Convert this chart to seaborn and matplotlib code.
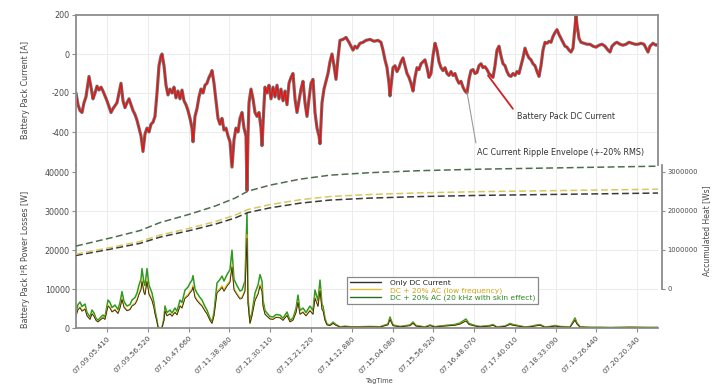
import matplotlib
matplotlib.use("Agg")
import matplotlib.pyplot as plt
from matplotlib.lines import Line2D
import numpy as np
import pandas as pd
import seaborn as sns

sns.set_theme(style="white")
plt.rcParams["font.family"] = ["DejaVu Sans"]

# ---------------------------------------------------------------- data
# sample index along the TagTime axis
cur_t = [0, 2, 4, 6, 8, 10, 12, 13, 15, 17, 19, 21, 23, 25, 27, 29, 31, 33, 35, 37,
         39, 41, 43, 45, 47, 49, 51, 53, 55, 57, 59, 61, 63, 65, 67, 69, 71, 73, 75, 77,
         79, 81, 83, 85, 86, 88, 90, 92, 94, 96, 98, 100, 102, 104, 106, 108, 110, 112, 114, 116,
         117, 119, 121, 123, 125, 127, 129, 131, 133, 135, 136, 138, 140, 142, 144, 146, 148, 150, 152, 154,
         156, 158, 160, 162, 164, 166, 168, 170, 171, 172, 173, 175, 177, 179, 181, 183, 185, 186, 188, 189,
         191, 193, 195, 197, 199, 201, 203, 205, 207, 209, 211, 213, 215, 217, 219, 221, 223, 225, 227, 229,
         231, 233, 235, 237, 239, 241, 243, 244, 246, 248, 250, 252, 254, 256, 258, 260, 262, 264, 267, 270,
         273, 275, 277, 279, 281, 284, 287, 290, 294, 298, 302, 305, 307, 309, 311, 313, 314, 316, 317, 319,
         321, 323, 325, 327, 329, 331, 333, 335, 337, 339, 341, 343, 345, 347, 349, 351, 353, 355, 357, 359,
         361, 363, 365, 367, 369, 371, 373, 375, 377, 379, 381, 383, 385, 387, 389, 391, 393, 395, 397, 399,
         401, 403, 405, 407, 409, 411, 413, 415, 417, 419, 421, 423, 425, 427, 429, 431, 433, 435, 437, 439,
         441, 443, 445, 447, 449, 451, 453, 455, 457, 459, 461, 463, 465, 467, 469, 471, 473, 475, 477, 479,
         481, 483, 485, 487, 489, 491, 493, 495, 497, 499, 500, 501, 503, 505, 508, 511, 514, 517, 520, 523,
         526, 529, 532, 534, 536, 539, 541, 544, 547, 550, 553, 556, 559, 562, 565, 568, 570, 572, 574, 577,
         580, 582]
# battery pack DC current [A]
current = [-200, -260, -290, -300, -250, -220, -150, -115, -170, -230, -200, -165, -185, -170, -190, -215, -240, -270, -300, -280,
           -265, -250, -200, -150, -240, -275, -250, -230, -260, -290, -310, -340, -380, -420, -500, -410, -380, -400, -360, -350,
           -320, -200, -60, -10, 0, -60, -160, -210, -180, -200, -170, -225, -190, -230, -185, -240, -260, -290, -330, -380,
           -450, -320, -280, -220, -180, -200, -160, -150, -120, -100, -85, -150, -240, -330, -360, -330, -390, -380, -420, -450,
           -580, -440, -380, -400, -330, -300, -380, -420, -700, -420, -250, -180, -230, -300, -320, -300, -380, -470, -260, -170,
           -200, -160, -230, -170, -220, -160, -230, -180, -240, -190, -260, -150, -120, -100, -230, -300, -240, -180, -140, -250,
           -320, -230, -150, -130, -300, -380, -420, -460, -250, -180, -140, -100, -40, 0, -60, -130, -20, 70, 75, 85,
           60, 40, 20, 40, 30, 55, 60, 70, 75, 65, 70, 60, 20, -30, -70, -150, -215, -120, -70, -60,
           -90, -70, -40, -20, -60, -100, -120, -150, -190, -120, -70, -80, -50, -40, -30, -70, -120, -100, -10, 55,
           20, -40, -70, -85, -70, -100, -110, -90, -110, -100, -130, -150, -140, -170, -190, -200, -130, -85, -80, -100,
           -95, -60, -50, -70, -65, -80, -100, -110, -120, -60, 20, 40, -10, -50, -60, -90, -110, -115, -100, -110,
           -90, -100, -60, -20, 30, 0, -20, -30, -50, -60, -90, -115, -60, 20, 60, 55, 65, 60, 90, 110,
           125, 100, 80, 60, 40, 35, 20, 10, 30, 140, 195, 150, 80, 60, 55, 50, 50, 40, 35, 45,
           50, 40, 20, 10, 40, 55, 60, 50, 45, 50, 60, 55, 50, 50, 55, 50, 30, 10, 40, 55,
           45, 50]

# I²R losses with DC current only [W]
loss_t = [0, 2, 4, 6, 9, 11, 14, 16, 18, 20, 22, 24, 27, 29, 32, 34, 36, 39, 42, 44,
          46, 48, 51, 54, 56, 59, 61, 63, 65, 66, 68, 69, 71, 73, 76, 78, 79, 81, 82, 84,
          86, 88, 89, 91, 94, 96, 99, 101, 104, 106, 109, 112, 114, 116, 117, 119, 121, 124, 126, 129,
          131, 134, 136, 138, 141, 144, 146, 148, 151, 154, 156, 158, 161, 164, 166, 169, 171, 172, 174, 176,
          179, 182, 184, 186, 187, 189, 191, 194, 197, 200, 204, 207, 211, 214, 217, 220, 222, 224, 227, 230,
          234, 237, 239, 242, 244, 246, 247, 249, 251, 254, 257, 260, 264, 269, 274, 284, 294, 304, 312, 314,
          317, 324, 334, 337, 340, 349, 354, 359, 364, 369, 374, 379, 384, 387, 390, 393, 399, 404, 414, 417,
          421, 429, 434, 437, 444, 449, 454, 461, 464, 469, 474, 479, 484, 494, 499, 501, 504, 514, 524, 534,
          544, 554, 564, 574, 582]
loss_dc = [3100, 4700, 5200, 4300, 4800, 3100, 2200, 3600, 3000, 1950, 1550, 2000, 2600, 2200, 5600, 5100, 4100, 4600, 3700, 5100,
           7300, 5300, 4400, 4700, 5600, 6100, 7000, 8600, 9800, 11900, 9000, 8500, 11900, 8600, 7000, 5100, 3600, 1550, 230, 0,
           80, 1950, 4400, 3100, 3600, 3000, 4000, 3350, 5600, 5100, 7600, 8200, 9000, 9600, 10500, 7800, 7000, 6100, 5600, 4300,
           3600, 1950, 1170, 3100, 9000, 9750, 10400, 9400, 10700, 11700, 15600, 9750, 8500, 7400, 7600, 9400, 23000, 6200, 1170, 3100,
           7000, 8600, 10700, 9400, 5600, 3500, 3000, 2300, 2200, 2700, 2600, 1950, 3200, 1550, 2000, 3900, 6600, 3500, 4000, 3100,
           4400, 3500, 7600, 5500, 9600, 4700, 4400, 1950, 780, 620, 1170, 700, 230, 350, 250, 250, 300, 250, 800, 2200,
           600, 300, 600, 1200, 500, 200, 600, 250, 400, 500, 600, 700, 1000, 1400, 1800, 900, 500, 300, 500, 700,
           200, 400, 900, 700, 400, 200, 300, 600, 700, 200, 300, 500, 300, 200, 2000, 1000, 250, 150, 150, 100,
           150, 180, 150, 120, 130]

# accumulated heat with DC current only [Ws]
heat_t = [0, 34, 64, 84, 114, 139, 159, 172, 194, 224, 254, 294, 344, 404, 464, 524, 582]
heat_dc = [0.86e6, 1.02e6, 1.17e6, 1.33e6, 1.50e6, 1.66e6, 1.82e6, 1.96e6, 2.08e6, 2.20e6,
           2.28e6, 2.33e6, 2.37e6, 2.40e6, 2.42e6, 2.44e6, 2.46e6]

LF_FACTOR = 1.04    # DC + 20 % AC ripple at low frequency: 1 + 0.2**2
SKIN_FACTOR = 1.28  # DC + 20 % AC ripple at 20 kHz with skin effect

tick_pos = [31, 72, 113, 153, 194, 235, 276, 317, 357, 398, 439, 480, 520, 561]
tick_labels = ["07.09.05.410", "07.09.56.520", "07.10.47.660", "07.11.38.980",
               "07.12.30.110", "07.13.21.220", "07.14.12.880", "07.15.04.080",
               "07.15.56.920", "07.16.48.070", "07.17.40.010", "07.18.33.090",
               "07.19.26.440", "07.20.20.340"]

series_labels = ["Only DC Current", "DC + 20% AC (low frequency)",
                 "DC + 20% AC (20 kHz with skin effect)"]
series_colors = ["#262626", "#e8b400", "#2f9a22"]
heat_colors = ["#3a3a3a", "#d9c85a", "#4d6e4d"]
series_text_colors = ["#222222", "#d4a20c", "#2e8a22"]

losses = pd.DataFrame({"t": loss_t,
                       "dc": loss_dc,
                       "lf": np.array(loss_dc) * LF_FACTOR,
                       "hf": np.array(loss_dc) * SKIN_FACTOR})
heat = pd.DataFrame({"t": heat_t,
                     "dc": heat_dc,
                     "lf": np.array(heat_dc) * LF_FACTOR,
                     "hf": np.array(heat_dc) * SKIN_FACTOR})

# ---------------------------------------------------------------- layout
W, H = 712, 385
fig = plt.figure(figsize=(W / 100, H / 100), dpi=100)
fig.patch.set_facecolor("white")


def box(x0, y0, x1, y1):
    return [x0 / W, 1 - y1 / H, (x1 - x0) / W, (y1 - y0) / H]


FRAME = "#8c8c8c"
TXT = "#4a4a4a"
GRID = "#ececec"
FS = 5.8

ax_p = fig.add_axes(box(76, 165, 658, 328))
ax_h = ax_p.twinx()
ax_c = fig.add_axes(box(76, 15, 658, 210))
ax_c.patch.set_alpha(0)

XMAX = 582

# ---------------------------------------------------------------- current panel
ax_c.set_xlim(0, XMAX)
ax_c.set_ylim(-800, 200)
for x in tick_pos:
    ax_c.axvline(x, color=GRID, lw=0.7, zorder=0, ymin=0.2)
for y in [0, -200, -400]:
    ax_c.axhline(y, color=GRID, lw=0.7, zorder=0)

# ripple envelope drawn as a grey halo under the DC trace
sns.lineplot(x=cur_t, y=current, ax=ax_c, color="#707070", lw=2.3,
             estimator=None, sort=False)
sns.lineplot(x=cur_t, y=current, ax=ax_c, color="#ee1111", lw=1.0,
             estimator=None, sort=False)

ax_c.set_yticks([200, 0, -200, -400])
ax_c.set_yticklabels(["200", "0", "-200", "-400"])
ax_c.set_xticks([])
ax_c.tick_params(axis="y", direction="out", length=3, width=0.8, color=FRAME,
                 labelsize=FS, labelcolor=TXT, pad=1.5, left=True)
for side in ["top", "right", "left"]:
    ax_c.spines[side].set_color(FRAME)
    ax_c.spines[side].set_linewidth(1.3)
ax_c.spines["bottom"].set_visible(False)
ax_c.spines["right"].set_bounds(-569, 200)
ax_c.spines["left"].set_bounds(-569, 200)
ax_c.set_ylabel("Battery Pack Current [A]", fontsize=FS, color=TXT)
ax_c.yaxis.set_label_coords(-0.079, 0.615)

ax_c.annotate("Battery Pack DC Current", xy=(412, -110), xytext=(441, -323),
              fontsize=FS, color="#333333", ha="left", va="center",
              arrowprops=dict(arrowstyle="-", color="#d42020", lw=1.3,
                              relpos=(0.0, 0.8), shrinkA=1, shrinkB=0))
ax_c.annotate("AC Current Ripple Envelope (+-20% RMS)", xy=(391, -195),
              xytext=(401, -503), fontsize=FS, color="#333333", ha="left",
              va="center",
              arrowprops=dict(arrowstyle="-", color="#9a9a9a", lw=0.8,
                              relpos=(0.0, 0.8), shrinkA=1, shrinkB=0))

# ---------------------------------------------------------------- losses panel
ax_p.set_xlim(0, XMAX)
ax_p.set_ylim(0, 41800)
for x in tick_pos:
    ax_p.axvline(x, color=GRID, lw=0.7, zorder=0)
for y in [10000, 20000, 30000]:
    ax_p.axhline(y, color=GRID, lw=0.7, zorder=0)

for col, c, lw in [("hf", series_colors[2], 1.1), ("lf", series_colors[1], 0.9),
                   ("dc", series_colors[0], 0.6)]:
    sns.lineplot(data=losses, x="t", y=col, ax=ax_p, color=c, lw=lw,
                 estimator=None, sort=False)

ax_p.set_yticks([0, 10000, 20000, 30000, 40000])
ax_p.set_yticklabels(["0", "10000", "20000", "30000", "40000"])
ax_p.set_xticks(tick_pos)
ax_p.set_xticklabels(tick_labels, rotation=45, ha="right",
                     rotation_mode="anchor")
ax_p.tick_params(axis="both", direction="out", length=3, width=0.8,
                 color=FRAME, labelsize=FS, labelcolor=TXT, pad=1.5,
                 left=True, bottom=True)
ax_p.tick_params(axis="x", labelsize=5.3, pad=2)
for side in ["left", "bottom"]:
    ax_p.spines[side].set_color(FRAME)
    ax_p.spines[side].set_linewidth(1.3)
ax_p.spines["top"].set_visible(False)
ax_p.spines["right"].set_visible(False)
ax_p.set_ylabel("Battery Pack I\u00b2R Power Losses [W]", fontsize=FS,
                color=TXT)
ax_p.yaxis.set_label_coords(-0.079, 0.423)
ax_p.set_xlabel("")

# ---------------------------------------------------------------- accumulated heat
ax_h.set_ylim(-1.0e6, 3.179e6)
for col, c in [("dc", heat_colors[0]), ("lf", heat_colors[1]),
               ("hf", heat_colors[2])]:
    sns.lineplot(data=heat, x="t", y=col, ax=ax_h, color=c, lw=1.1,
                 linestyle=(0, (4.5, 2.2)), estimator=None, sort=False)
ax_h.set_yticks([0, 1e6, 2e6, 3e6])
ax_h.set_yticklabels(["0", "1000000", "2000000", "3000000"])
ax_h.tick_params(axis="y", direction="out", length=2.5, width=0.8,
                 color=FRAME, labelsize=4.9, labelcolor=TXT, pad=1.2,
                 right=True)
for side in ["top", "left", "bottom"]:
    ax_h.spines[side].set_visible(False)
ax_h.spines["right"].set_color(FRAME)
ax_h.spines["right"].set_linewidth(1.3)
ax_h.spines["right"].set_position(("outward", 3))
ax_h.spines["right"].set_bounds(0, 3.179e6)
ax_h.set_ylabel("Accumulated Heat [Ws]", fontsize=5.5, color=TXT,
                rotation=90, va="center")
ax_h.yaxis.set_label_coords(1.083, 0.60)
ax_h.set_xlabel("")

# legend
handles = [Line2D([0], [0], color=c, lw=1.0) for c in
           ["#303030", "#e0c030", "#2a6a2a"]]
leg = ax_p.legend(handles, series_labels, loc="upper left",
                  bbox_to_anchor=(0.459, 0.337), fontsize=5.4, frameon=True,
                  fancybox=False, edgecolor="#8a8a8a", framealpha=1,
                  handlelength=4.2, handletextpad=1.2, borderpad=0.35,
                  labelspacing=0.15)
leg.get_frame().set_linewidth(0.9)
for txt, c in zip(leg.get_texts(), series_text_colors):
    txt.set_color(c)

fig.text(380 / W, 1 - 381 / H, "TagTime", fontsize=4.8, color=TXT,
         ha="center", va="center")

fig.savefig("out.png", dpi=100, facecolor="white")
